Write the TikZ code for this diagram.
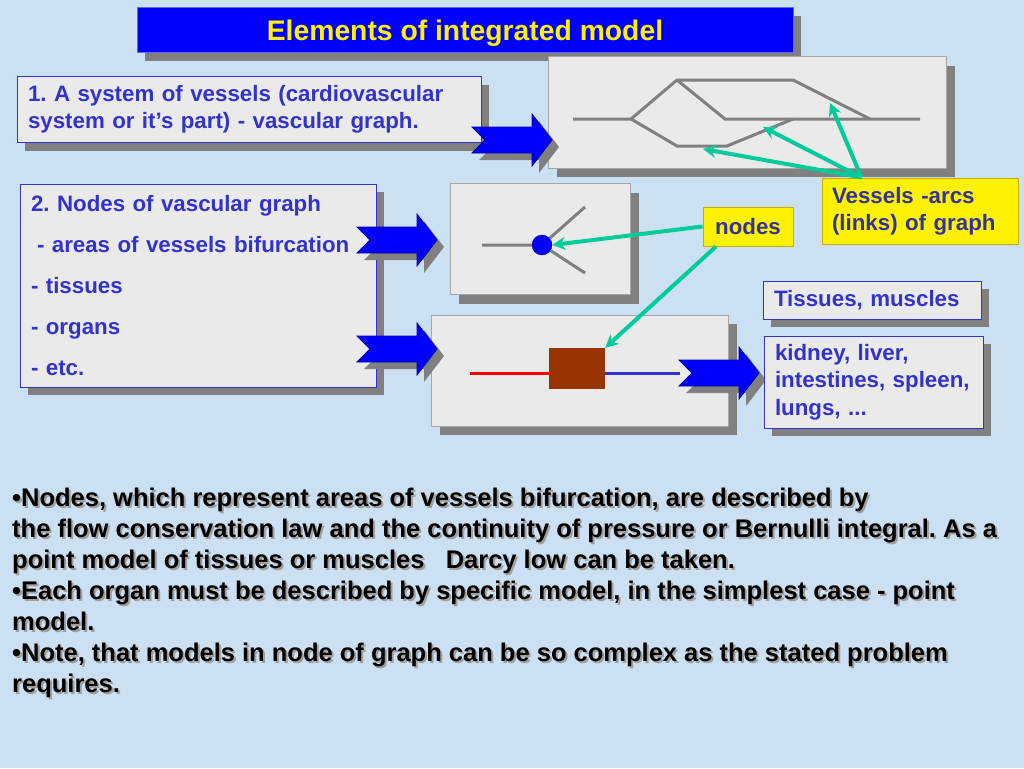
\documentclass[tikz,border=0pt]{standalone}
\usepackage{fontspec}
\setmainfont{Liberation Sans}
\usetikzlibrary{shadows,arrows.meta}
\frenchspacing

\definecolor{bgblue}{RGB}{204,224,244}
\definecolor{panegray}{RGB}{234,234,234}
\definecolor{shadowgray}{RGB}{128,128,128}
\definecolor{vesselgray}{RGB}{128,128,128}
\definecolor{boxblue}{RGB}{51,51,204}
\definecolor{labelblue}{RGB}{51,51,153}
\definecolor{linkgreen}{RGB}{0,204,153}
\definecolor{organbrown}{RGB}{153,51,0}
\definecolor{notegold}{RGB}{204,170,0}
\definecolor{arrowedge}{RGB}{0,0,153}

\tikzset{
  boxfont/.style={font=\fontsize{22.3}{27}\selectfont\bfseries},
  shade8/.style={drop shadow={shadow xshift=8pt,shadow yshift=-8pt,fill=shadowgray,opacity=1}},
  textbox/.style={shade8,boxfont,fill=panegray,draw=boxblue,text=boxblue,line width=1pt,
    inner xsep=11pt,inner ysep=0pt,align=left},
  pane/.style={drop shadow={shadow xshift=9pt,shadow yshift=-9pt,fill=shadowgray,opacity=1},
    fill=panegray,draw=gray!70,line width=1pt},
  notebox/.style={boxfont,fill=yellow,draw=notegold,text=labelblue,line width=1pt,
    inner xsep=10pt,inner ysep=0pt,align=left},
  vessel/.style={vesselgray,line width=3pt},
  link/.style={linkgreen,line width=4pt,-{Stealth[length=13pt,width=13pt]}},
  blockarrow/.pic={
    \fill[shadowgray,shift={(7,7)}] (0,-13) -- (60,-13) -- (60,-26) -- (80,0) -- (60,26) -- (60,13) -- (0,13) -- (13,0) -- cycle;
    \filldraw[fill=blue,draw=arrowedge,line width=0.8pt] (0,-13) -- (60,-13) -- (60,-26) -- (80,0) -- (60,26) -- (60,13) -- (0,13) -- (13,0) -- cycle;
  }
}

\begin{document}
\begin{tikzpicture}[x=1pt,y=-1pt]
  \fill[bgblue] (0,0) rectangle (1024,768);
  \useasboundingbox (0,0) rectangle (1024,768);

  % title bar
  \node[shade8,fill=blue,draw=blue!60,line width=1pt,minimum width=656pt,minimum height=45pt,text depth=0pt,
    text=yellow,font=\fontsize{28.3}{32}\selectfont\bfseries] (title) at (465,30.5) {Elements of integrated model};

  % left boxes
  \node[textbox,text width=442pt,minimum height=66pt] (sysbox) at (249,109.5)
    {1. A system of vessels (cardiovascular\\system or it’s part) - vascular graph.};
  \node[textbox,text width=334pt,minimum height=203pt,font=\fontsize{22.3}{41}\selectfont\bfseries] (nodebox) at (198,285.5)
    {2. Nodes of vascular graph\\\hspace{6pt}- areas of vessels bifurcation\\- tissues\\- organs\\- etc.};

  % picture panes
  \node[pane,minimum width=398pt,minimum height=111pt] (graphpane) at (747,112.5) {};
  \node[pane,minimum width=180pt,minimum height=111pt] (nodepane) at (540,239) {};
  \node[pane,minimum width=297pt,minimum height=111pt] (organpane) at (579.5,370.5) {};

  % vascular graph
  \coordinate (vl) at (573,119);
  \coordinate (vs) at (631,119);
  \coordinate (vu1) at (677,80);
  \coordinate (vu2) at (793,80);
  \coordinate (vr) at (870,119);
  \coordinate (vm) at (725,119);
  \coordinate (vend) at (920,119);
  \coordinate (vd1) at (677,146);
  \coordinate (vd2) at (727,146);
  \coordinate (vj) at (793,119);
  \draw[vessel] (vl) -- (vs) -- (vu1) -- (vu2) -- (vr);
  \draw[vessel] (vu1) -- (vm) -- (vend);
  \draw[vessel] (vs) -- (vd1) -- (vd2) -- (vj);

  % bifurcation node
  \node[circle,fill=blue,draw=arrowedge,minimum size=20pt,inner sep=0pt] (dot) at (542,245) {};
  \coordinate (din) at (482,245);
  \coordinate (dup) at (585,207);
  \coordinate (ddown) at (585,273);
  \draw[vessel] (din) -- (dot) (dot) -- (dup) (dot) -- (ddown);

  % organ node
  \node[fill=organbrown,minimum width=56pt,minimum height=41pt,inner sep=0pt] (organ) at (577,368.5) {};
  \coordinate (redin) at (470,373);
  \coordinate (blueout) at (680,373);
  \draw[red,line width=3pt] (redin) -- (redin -| organ.west);
  \draw[boxblue,line width=3pt] (blueout -| organ.east) -- (blueout);

  % block arrows
  \pic at (472,140) {blockarrow};
  \pic at (357,240) {blockarrow};
  \pic at (357,349) {blockarrow};
  \pic at (679,373) {blockarrow};

  % right boxes
  \node[textbox,text width=196pt,minimum height=38pt] (tissues) at (872,300) {Tissues, muscles};
  \node[textbox,text width=197pt,minimum height=92pt,font=\fontsize{22.3}{27.5}\selectfont\bfseries] (organs) at (873.5,382)
    {kidney, liver,\\intestines, spleen,\\lungs, ...};

  % labels
  \node[notebox,text width=176pt,minimum height=66pt] (arcs) at (920,211) {Vessels -arcs\\(links) of graph};
  \node[notebox,minimum width=90pt,minimum height=39pt,align=center] (nodes) at (748,226.5) {nodes};

  % green pointers
  \coordinate (arcA) at (703,149);
  \coordinate (arcB) at (763,127);
  \coordinate (arcC) at (830,103);
  \foreach \tgt in {arcA,arcB,arcC}
    \draw[link] ([xshift=40pt]arcs.north west) -- (\tgt);
  \draw[link] (nodes.west) -- (dot.east);
  \draw[link] ([xshift=-32pt]nodes.south) -- (organ.north east);

  % notes
  \node[anchor=north west,align=left,inner sep=0pt,text=gray!75,font=\fontsize{25.5}{31}\selectfont\bfseries] (notesshadow) at (14,490)
    {•Nodes, which represent areas of vessels bifurcation, are described by\\
     the flow conservation law and the continuity of pressure or Bernulli integral. As a\\
     point model of tissues or muscles \ \ Darcy low can be taken.\\
     •Each organ must be described by specific model, in the simplest case - point\\
     model.\\
     •Note, that models in node of graph can be so complex as the stated problem\\
     requires.};
  \node[anchor=north west,align=left,inner sep=0pt,font=\fontsize{25.5}{31}\selectfont\bfseries] (notes) at (12,488)
    {•Nodes, which represent areas of vessels bifurcation, are described by\\
     the flow conservation law and the continuity of pressure or Bernulli integral. As a\\
     point model of tissues or muscles \ \ Darcy low can be taken.\\
     •Each organ must be described by specific model, in the simplest case - point\\
     model.\\
     •Note, that models in node of graph can be so complex as the stated problem\\
     requires.};
\end{tikzpicture}
\end{document}
